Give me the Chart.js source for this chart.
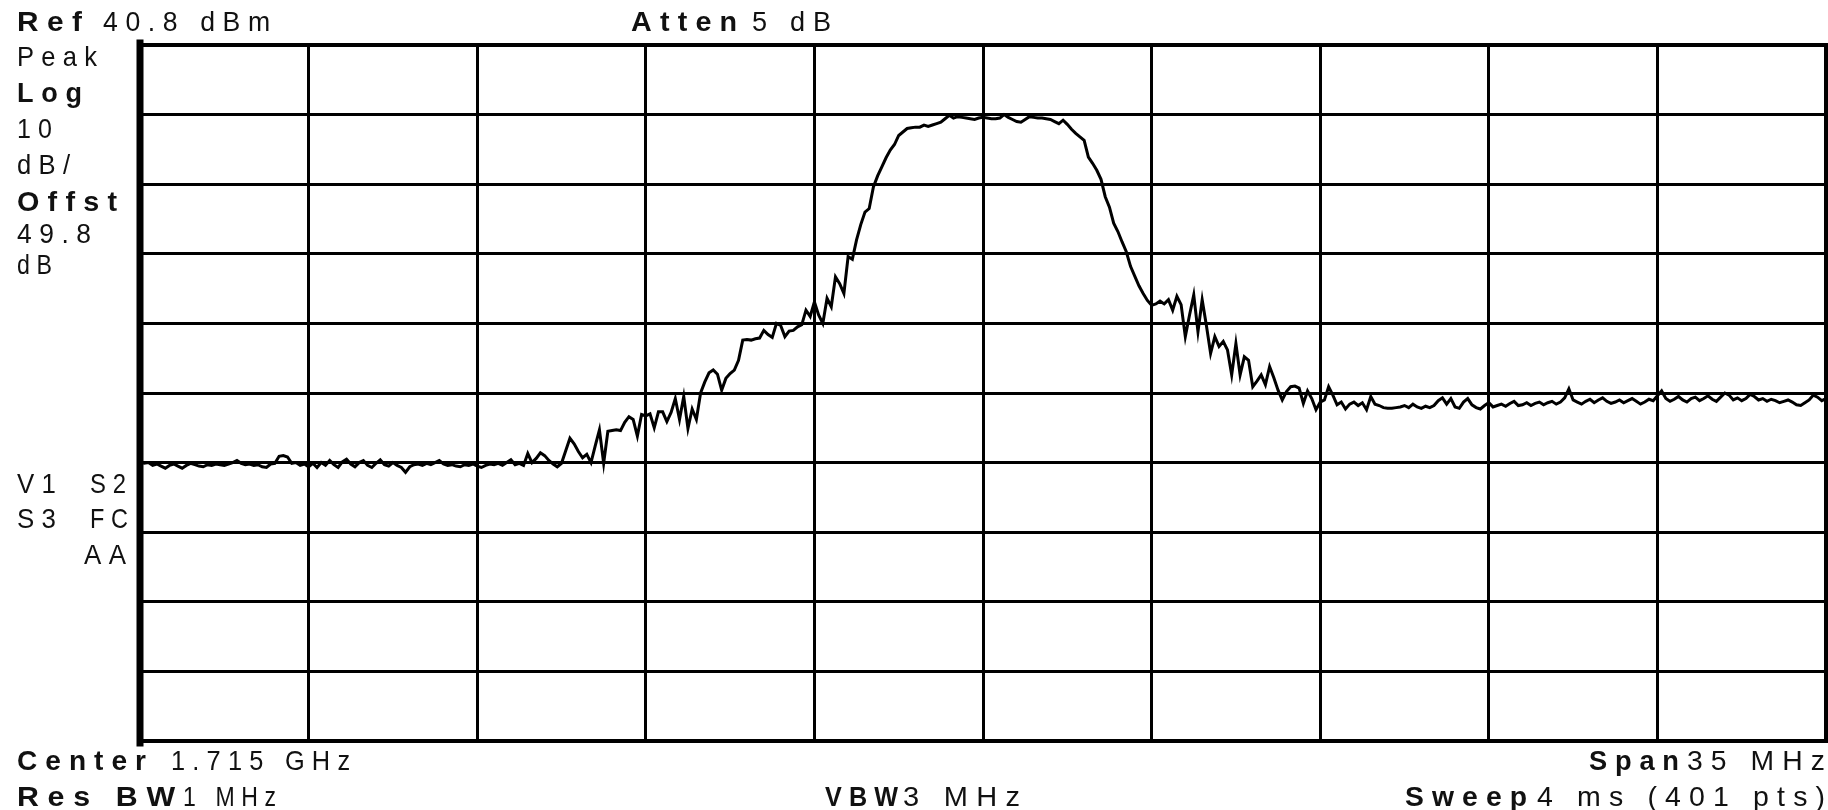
<!DOCTYPE html>
<html>
<head>
<meta charset="utf-8">
<title>Spectrum trace</title>
<script src="https://cdn.jsdelivr.net/npm/chart.js@4.4.1/dist/chart.umd.min.js"></script>
<style>
  html, body { margin: 0; padding: 0; background: #fff; }
  #wrap { position: relative; width: 1828px; height: 810px; overflow: hidden; }
  canvas { position: absolute; left: 0; top: 0; }
  .lab {
    position: absolute; white-space: nowrap; color: #111;
    font-size: 28px; line-height: 28px;
    font-family: 'Liberation Sans', Arial, sans-serif;
    letter-spacing: 8px; transform-origin: 0 0;
  }
  .b { font-weight: bold; }
</style>
</head>
<body>
<div id="wrap">
  <canvas id="chart" width="1828" height="810"></canvas>

  <!-- data-w: ink width in the reference, used to squeeze each label -->
  <div class="lab b" style="left:17px; top:8px;" data-w="65">Ref</div>
  <div class="lab" style="left:103px; top:8px;" data-w="167">40.8 dBm</div>
  <div class="lab b" style="left:631px; top:8px;" data-w="106">Atten</div>
  <div class="lab" style="left:752px; top:8px;" data-w="79">5 dB</div>

  <div class="lab" style="left:17px; top:43px;" data-w="80">Peak</div>
  <div class="lab b" style="left:17px; top:79px;" data-w="65">Log</div>
  <div class="lab" style="left:17px; top:115px;" data-w="35">10</div>
  <div class="lab" style="left:17px; top:151px;" data-w="53">dB/</div>
  <div class="lab b" style="left:17px; top:188px;" data-w="100">Offst</div>
  <div class="lab" style="left:17px; top:220px;" data-w="74">49.8</div>
  <div class="lab" style="left:17px; top:251px;" data-w="35">dB</div>

  <div class="lab" style="left:17px; top:470px;" data-w="39">V1</div>
  <div class="lab" style="left:90px; top:470px;" data-w="36">S2</div>
  <div class="lab" style="left:17px; top:505px;" data-w="39">S3</div>
  <div class="lab" style="left:90px; top:505px;" data-w="38">FC</div>
  <div class="lab" style="left:84px; top:541px;" data-w="42">AA</div>

  <div class="lab b" style="left:17px; top:747px;" data-w="129">Center</div>
  <div class="lab" style="left:171px; top:747px;" data-w="179">1.715 GHz</div>
  <div class="lab b" style="left:1589px; top:747px;" data-w="90">Span</div>
  <div class="lab" style="left:1687px; top:747px;" data-w="138">35 MHz</div>
  <div class="lab b" style="left:17px; top:783px;" data-w="158">Res BW</div>
  <div class="lab" style="left:183px; top:783px;" data-w="93">1 MHz</div>
  <div class="lab b" style="left:825px; top:783px;" data-w="73">VBW</div>
  <div class="lab" style="left:903px; top:783px;" data-w="117">3 MHz</div>
  <div class="lab b" style="left:1405px; top:783px;" data-w="122">Sweep</div>
  <div class="lab" style="left:1537px; top:783px;" data-w="288">4 ms (401 pts)</div>
</div>

<script>
// sweep settings (MHz)
const startFreq = 1697.5;
const stopFreq = 1732.5;

// graticule: 10 divisions each way
const xTicks = [1697.5, 1701, 1704.5, 1708, 1711.5, 1715, 1718.5, 1722, 1725.5, 1729, 1732.5];
const yTicks = [-59.2, -49.2, -39.2, -29.2, -19.2, -9.2, 0.8, 10.8, 20.8, 30.8, 40.8];

// trace amplitude, dBm, 401 sweep points
const traceDbm = [
  -19.1, -19.3, -19.2, -19.6, -19.4, -19.7, -20.0, -19.6, -19.4, -19.7,
  -20.0, -19.6, -19.3, -19.5, -19.7, -19.8, -19.5, -19.6, -19.4, -19.5,
  -19.6, -19.4, -19.2, -18.9, -19.3, -19.5, -19.4, -19.6, -19.5, -19.8,
  -19.9, -19.4, -19.3, -18.3, -18.2, -18.4, -19.3, -19.2, -19.6, -19.4,
  -19.8, -19.3, -19.9, -19.2, -19.6, -18.9, -19.5, -19.9, -19.1, -18.7,
  -19.4, -19.8, -19.2, -18.9, -19.6, -19.9, -19.3, -18.8, -19.5, -19.7,
  -19.2, -19.6, -19.9, -20.6, -19.8, -19.5, -19.4, -19.6, -19.3, -19.5,
  -19.2, -18.9, -19.4, -19.6, -19.5, -19.7, -19.8, -19.5, -19.6, -19.4,
  -19.7, -19.9, -19.6, -19.4, -19.5, -19.3, -19.6, -19.2, -18.8, -19.5,
  -19.3, -19.6, -17.9, -19.2, -18.6, -17.8, -18.2, -18.9, -19.4, -19.8,
  -19.3, -17.5, -15.7, -16.5, -17.6, -18.5, -18.0, -19.2, -16.8, -14.5,
  -19.3, -14.7, -14.6, -14.5, -14.6, -13.4, -12.6, -13.0, -15.4, -12.3,
  -12.5, -12.2, -14.2, -11.9, -11.9, -13.3, -12.0, -10.0, -13.0, -9.7,
  -14.3, -11.5, -13.0, -9.2, -7.6, -6.3, -5.9, -6.5, -8.8, -7.1,
  -6.4, -5.9, -4.5, -1.6, -1.5, -1.6, -1.4, -1.3, -0.2, -0.8,
  -1.2, 0.8, 0.5, -1.1, -0.3, -0.2, 0.3, 0.6, 2.7, 1.8,
  3.9, 2.0, 0.8, 4.4, 3.2, 7.5, 6.5, 5.1, 10.4, 10.0,
  12.8, 15.0, 16.8, 17.3, 20.4, 22.0, 23.3, 24.6, 25.7, 26.5,
  27.8, 28.3, 28.8, 28.9, 29.0, 29.0, 29.3, 29.1, 29.3, 29.5,
  29.7, 30.2, 30.7, 30.3, 30.5, 30.4, 30.3, 30.2, 30.1, 30.3,
  30.4, 30.3, 30.2, 30.2, 30.3, 30.8, 30.4, 30.1, 29.8, 29.7,
  30.1, 30.5, 30.4, 30.3, 30.3, 30.2, 30.1, 29.8, 29.5, 30.0,
  29.4, 28.7, 28.1, 27.6, 27.1, 24.7, 23.8, 22.8, 21.5, 19.0,
  17.5, 15.2, 14.0, 12.5, 11.1, 9.0, 7.6, 6.2, 5.1, 4.1,
  3.4, 3.6, 4.0, 3.6, 4.2, 2.7, 4.7, 3.5, -1.1, 2.0,
  4.9, -0.4, 4.2, 0.5, -3.5, -1.1, -2.5, -1.8, -3.0, -6.6,
  -2.1, -6.6, -4.0, -4.5, -8.3, -7.5, -6.6, -8.0, -5.4, -7.0,
  -8.8, -10.2, -9.0, -8.3, -8.2, -8.5, -10.7, -8.9, -10.0, -11.6,
  -10.5, -10.2, -8.3, -9.5, -10.9, -10.5, -11.5, -10.8, -10.5, -11.0,
  -10.6, -11.6, -9.7, -10.8, -11.0, -11.3, -11.4, -11.4, -11.3, -11.2,
  -11.0, -11.3, -10.8, -11.2, -11.4, -11.1, -11.3, -11.0, -10.3, -9.9,
  -10.8, -10.0, -11.2, -11.4, -10.5, -10.0, -10.9, -11.3, -11.5, -11.0,
  -10.6, -11.2, -11.0, -10.8, -11.1, -10.7, -10.4, -11.0, -10.9, -10.6,
  -11.0, -10.7, -10.5, -10.9, -10.6, -10.4, -10.8, -10.5, -9.9, -8.6,
  -10.2, -10.5, -10.8, -10.4, -10.1, -10.6, -10.2, -9.9, -10.4, -10.7,
  -10.5, -10.2, -10.6, -10.3, -10.0, -10.4, -10.8, -10.5, -10.1, -10.3,
  -9.6, -8.9, -10.0, -10.4, -10.1, -9.7, -10.2, -10.5, -10.0, -9.8,
  -10.3, -10.0, -9.6, -10.1, -10.4, -9.8, -9.2, -9.5, -10.2, -9.9,
  -10.3, -10.0, -9.4, -9.7, -10.2, -10.0, -10.4, -10.1, -10.3, -10.6,
  -10.4, -10.2, -10.5, -10.9, -11.0, -10.6, -10.2, -9.5, -9.8, -10.3,
  -10.0
];

const stepMHz = (stopFreq - startFreq) / (traceDbm.length - 1);
const tracePoints = traceDbm.map((v, i) => ({ x: startFreq + i * stepMHz, y: v }));

// squeeze the annunciator text to the widths seen on the plot
document.querySelectorAll('.lab').forEach((el) => {
  const natural = el.getBoundingClientRect().width - 8; // drop trailing letter-spacing
  const target = Number(el.dataset.w);
  el.style.transform = `scaleX(${(target / natural).toFixed(3)})`;
});

// heavy frame around the graticule, like the plotter output
const framePlugin = {
  id: 'frame',
  afterDraw(chart) {
    const { ctx, chartArea: a } = chart;
    ctx.save();
    ctx.strokeStyle = '#000';
    ctx.lineCap = 'square';
    ctx.lineWidth = 4;
    ctx.beginPath();
    ctx.moveTo(a.left, a.top); ctx.lineTo(a.right, a.top); ctx.lineTo(a.right, a.bottom); ctx.lineTo(a.left, a.bottom);
    ctx.stroke();
    ctx.lineWidth = 7;
    ctx.beginPath();
    ctx.moveTo(a.left, a.top - 2); ctx.lineTo(a.left, a.bottom + 2);
    ctx.stroke();
    ctx.restore();
  },
};

new Chart(document.getElementById('chart').getContext('2d'), {
  type: 'line',
  data: {
    datasets: [{
      data: tracePoints,
      borderColor: '#000',
      borderWidth: 3,
      pointRadius: 0,
      tension: 0,
      fill: false,
    }],
  },
  options: {
    responsive: false,
    animation: false,
    devicePixelRatio: 1,
    layout: { padding: { left: 140, top: 45, right: 2, bottom: 69 } },
    plugins: { legend: { display: false }, tooltip: { enabled: false } },
    scales: {
      x: {
        type: 'linear',
        min: startFreq,
        max: stopFreq,
        afterBuildTicks: (axis) => { axis.ticks = xTicks.map((v) => ({ value: v })); },
        ticks: { display: false },
        grid: { color: '#000', lineWidth: 3, drawTicks: false },
        border: { display: false },
      },
      y: {
        min: yTicks[0],
        max: yTicks[yTicks.length - 1],
        afterBuildTicks: (axis) => { axis.ticks = yTicks.map((v) => ({ value: v })); },
        ticks: { display: false },
        grid: { color: '#000', lineWidth: 3, drawTicks: false },
        border: { display: false },
      },
    },
  },
  plugins: [framePlugin],
});
</script>
</body>
</html>
